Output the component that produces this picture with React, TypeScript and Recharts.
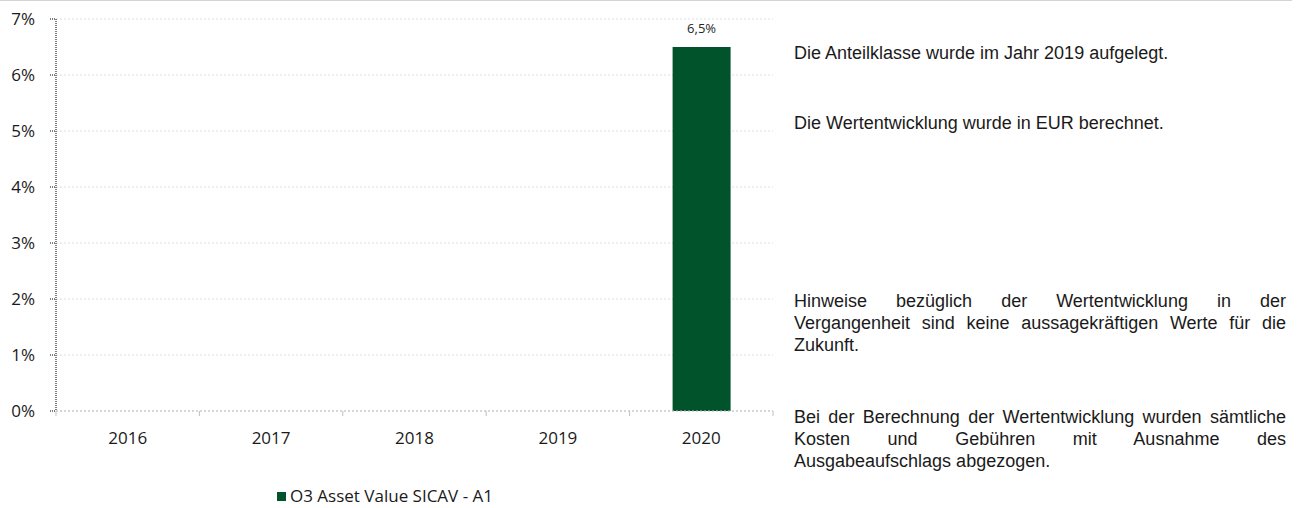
import React from 'react';
import { BarChart, Bar, XAxis, YAxis, CartesianGrid, LabelList } from 'recharts';

const years = ['2016', '2017', '2018', '2019', '2020'];
const returns: (number | null)[] = [null, null, null, null, 0.065];
const yTicks = [0, 0.01, 0.02, 0.03, 0.04, 0.05, 0.06, 0.07];
const seriesName = 'O3 Asset Value SICAV - A1';

// each note is kept with the line breaks of the original text box
const notes = [
  { top: 42, lines: ['Die Anteilklasse wurde im Jahr 2019 aufgelegt.'] },
  { top: 112, lines: ['Die Wertentwicklung wurde in EUR berechnet.'] },
  {
    top: 290,
    lines: [
      'Hinweise bezüglich der Wertentwicklung in der',
      'Vergangenheit sind keine aussagekräftigen Werte für die',
      'Zukunft.',
    ],
  },
  {
    top: 406,
    lines: [
      'Bei der Berechnung der Wertentwicklung wurden sämtliche',
      'Kosten und Gebühren mit Ausnahme des',
      'Ausgabeaufschlags abgezogen.',
    ],
  },
];

const data = years.map((year, i) => ({ year, value: returns[i] }));

const CHART_W = 780;
const MARGIN = { top: 19, right: 7, left: 0, bottom: 29 };
const Y_W = 56;
const band = (CHART_W - MARGIN.left - MARGIN.right - Y_W) / years.length;

const chartFont = '"Open Sans", sans-serif';

const YearTick = (props: any) => {
  const { x, y, payload, index } = props;
  const left = x - band / 2;
  const right = x + band / 2;
  return (
    <g>
      <line x1={left} x2={left} y1={y} y2={y + 5} stroke="#bfbfbf" />
      {index === years.length - 1 && <line x1={right} x2={right} y1={y} y2={y + 5} stroke="#bfbfbf" />}
      <text x={x} y={y + 33} textAnchor="middle" fontSize={17} fill="#1a1a1a" fontFamily={chartFont}>
        {payload.value}
      </text>
    </g>
  );
};

const pct = (v: any) => (v == null ? '' : `${(Number(v) * 100).toFixed(1).replace('.', ',')}%`);

export default function App() {
  return (
    <div style={{ position: 'absolute', left: 0, top: 0, width: 1300, height: 508, background: '#fff', overflow: 'hidden' }}>
      <div style={{ position: 'absolute', left: 0, top: 0, width: 1292, height: 1, background: '#d4d4d4' }} />
      <div style={{ position: 'absolute', left: 0, top: 0 }}>
        <BarChart width={CHART_W} height={470} data={data} margin={MARGIN}>
          <CartesianGrid vertical={false} stroke="#dedede" strokeDasharray="2 2" />
          <XAxis
            dataKey="year"
            height={30}
            axisLine={{ stroke: '#bfbfbf', strokeDasharray: '2 2' }}
            tickLine={false}
            tickSize={0}
            tickMargin={0}
            tick={<YearTick />}
            interval={0}
          />
          <YAxis
            width={Y_W}
            domain={[0, 0.07]}
            ticks={yTicks}
            interval={0}
            tickFormatter={(v: number) => `${Math.round(v * 100)}%`}
            axisLine={{ stroke: '#000', strokeDasharray: '1 1' }}
            tickLine={{ stroke: '#000', strokeDasharray: '1 1' }}
            tickSize={6}
            tickMargin={15}
            tick={{ fontSize: 17, fill: '#1a1a1a', fontFamily: chartFont }}
          />
          <Bar dataKey="value" name={seriesName} fill="#00532b" barSize={58} isAnimationActive={false}>
            <LabelList
              dataKey="value"
              position="top"
              offset={14}
              formatter={pct}
              style={{ fontSize: 13, fill: '#262626', fontFamily: chartFont }}
            />
          </Bar>
        </BarChart>
      </div>
      <div
        style={{
          position: 'absolute',
          left: 277,
          top: 486,
          display: 'flex',
          alignItems: 'center',
          fontFamily: chartFont,
          fontSize: 17,
          color: '#1a1a1a',
          lineHeight: '20px',
          whiteSpace: 'nowrap',
        }}
      >
        <span style={{ display: 'inline-block', width: 9, height: 9, background: '#00532b', marginRight: 4 }} />
        {seriesName}
      </div>
      {notes.map((n) => (
        <div
          key={n.top}
          style={{
            position: 'absolute',
            left: 794,
            top: n.top,
            width: 492,
            fontFamily: '"Liberation Sans", Arial, sans-serif',
            fontSize: 18,
            lineHeight: '22px',
            color: '#1a1a1a',
          }}
        >
          {n.lines.map((line, i) => {
            const last = i === n.lines.length - 1;
            return (
              <div
                key={i}
                style={{ whiteSpace: 'nowrap', textAlign: last ? 'left' : 'justify', textAlignLast: last ? 'left' : 'justify' } as React.CSSProperties}
              >
                {line}
              </div>
            );
          })}
        </div>
      ))}
    </div>
  );
}
